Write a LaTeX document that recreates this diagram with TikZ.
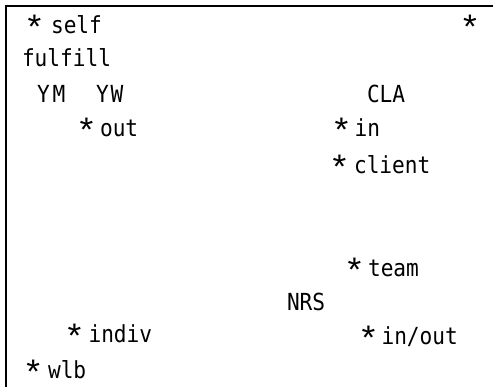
\documentclass[tikz,border=0pt]{standalone}
\usepackage{fontspec}
\setmonofont[FakeStretch=0.9]{DejaVu Sans Mono}
\newfontfamily\astfont{Liberation Sans}
% widened, lowered asterisk used as a bullet (no extra depth)
\newcommand\bulmark{\raisebox{-5pt}[\height][0pt]{\scalebox{1.5}[1.45]{\astfont *}}}
\begin{document}
\begin{tikzpicture}[x=1pt,y=-1pt,
  lbl/.style={anchor=base west,inner sep=0pt,outer sep=0pt,
    font=\fontsize{23.5}{26}\selectfont\ttfamily},
  frame/.style={line width=2.4pt,line cap=rect}]
  \useasboundingbox (0,0) rectangle (493,387);
  % open frame: left and top edges only
  \coordinate (fb) at (6,390);
  \coordinate (fc) at (6,6);
  \coordinate (fr) at (496,6);
  \draw[frame] (fb) -- (fc) -- (fr);
  % labels
  \node[lbl] (self)   at (27.5,34)  {\bulmark\hspace{9.8pt}self};
  \node[lbl] (star)   at (463,34)   {\bulmark};
  \node[lbl] (ful)    at (22,67)    {fulfill};
  \node[lbl] (ym)     at (37,103)   {Y\kern3pt M};
  \node[lbl] (yw)     at (96,103)   {Y\kern2pt W};
  \node[lbl] (cla)    at (367,103)  {CLA};
  \node[lbl] (out)    at (79.5,137) {\bulmark\hspace{6.8pt}out};
  \node[lbl] (in)     at (334.5,137){\bulmark\hspace{6.3pt}in};
  \node[lbl] (client) at (332.5,174){\bulmark\hspace{7.8pt}client};
  \node[lbl] (team)   at (347.5,277){\bulmark\hspace{6.8pt}team};
  \node[lbl] (nrs)    at (287,311)  {NRS};
  \node[lbl] (inout)  at (361.5,345){\bulmark\hspace{6.3pt}in/out};
  \node[lbl] (indiv)  at (67.5,343) {\bulmark\hspace{7.3pt}indiv};
  \node[lbl] (wlb)    at (26.5,379) {\bulmark\hspace{7.8pt}wlb};
\end{tikzpicture}
\end{document}
